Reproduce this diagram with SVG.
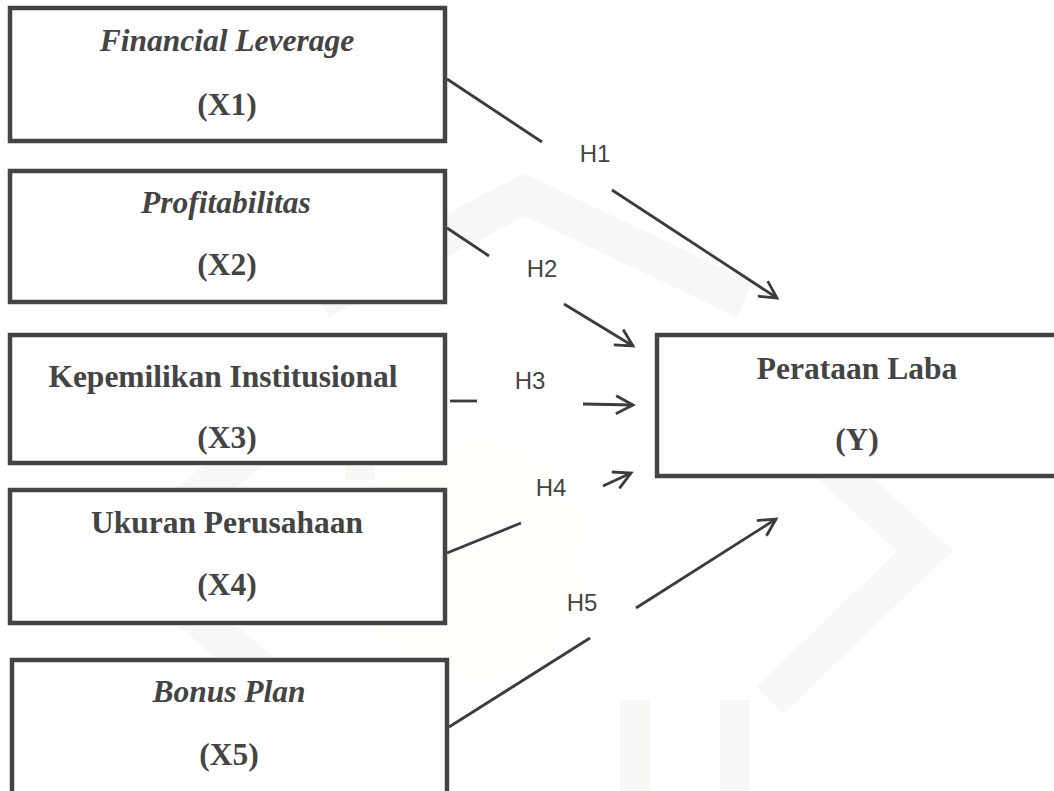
<svg xmlns="http://www.w3.org/2000/svg" width="1054" height="791" viewBox="0 0 1054 791">
  <style>
    .box { fill: #ffffff; stroke: #444444; stroke-width: 4.5; }
    .t { font-family: "Liberation Serif", "Times New Roman", serif; font-size: 31.5px; font-weight: bold; fill: #444444; text-anchor: middle; }
    .i { font-style: italic; }
    .h { font-family: "Liberation Sans", Arial, sans-serif; font-size: 24px; fill: #444444; text-anchor: middle; }
    .c { stroke: #3c3c3c; stroke-width: 2.8; fill: none; stroke-linecap: butt; }
    .wm { fill: none; stroke: #f7f7f6; stroke-width: 38; stroke-linejoin: miter; }
    .wb { fill: #f7f7f6; }
  </style>
  <defs>
    <marker id="arr" viewBox="0 0 22 22" refX="19" refY="11" markerWidth="22" markerHeight="22" markerUnits="userSpaceOnUse" orient="auto">
      <path d="M2,2 L19,11 L2,20" fill="none" stroke="#3c3c3c" stroke-width="2.8"/>
    </marker>
  </defs>
  <rect x="0" y="0" width="1054" height="791" fill="#ffffff"/>
  <g id="watermark">
    <circle cx="470" cy="560" r="120" fill="#fefefa"/>
    <polyline class="wm" points="300,410 125,555 300,705"/>
    <polyline class="wm" points="770,410 925,551 770,700"/>
    <polyline class="wm" points="320,300 525,195 745,300"/>
    <rect class="wb" x="345" y="360" width="30" height="120"/>
    <rect class="wb" x="620" y="700" width="30" height="91"/>
    <rect class="wb" x="720" y="700" width="30" height="91"/>
  </g>
  <g id="connectors">
    <line class="c" x1="447" y1="79" x2="542" y2="142"/>
    <line class="c" x1="612" y1="190" x2="777" y2="298" marker-end="url(#arr)"/>
    <line class="c" x1="447" y1="228" x2="489" y2="256"/>
    <line class="c" x1="564" y1="304" x2="633" y2="346" marker-end="url(#arr)"/>
    <line class="c" x1="450" y1="401" x2="477" y2="401"/>
    <line class="c" x1="583" y1="404" x2="633" y2="405" marker-end="url(#arr)"/>
    <line class="c" x1="447" y1="553" x2="521" y2="523"/>
    <line class="c" x1="603" y1="486" x2="631" y2="473" marker-end="url(#arr)"/>
    <line class="c" x1="449" y1="727" x2="590" y2="638"/>
    <line class="c" x1="636" y1="608" x2="776" y2="519" marker-end="url(#arr)"/>
    <text class="h" x="595" y="162">H1</text>
    <text class="h" x="542" y="277">H2</text>
    <text class="h" x="530" y="389">H3</text>
    <text class="h" x="551" y="496">H4</text>
    <text class="h" x="582" y="611">H5</text>
  </g>
  <g id="x1">
    <rect class="box" x="10" y="8" width="435" height="133"/>
    <text class="t i" x="227" y="51">Financial Leverage</text>
    <text class="t" x="227" y="115">(X1)</text>
  </g>
  <g id="x2">
    <rect class="box" x="10" y="171" width="435" height="131"/>
    <text class="t i" x="226" y="213">Profitabilitas</text>
    <text class="t" x="227" y="275">(X2)</text>
  </g>
  <g id="x3">
    <rect class="box" x="10" y="335" width="435" height="128"/>
    <text class="t" x="223" y="387">Kepemilikan Institusional</text>
    <text class="t" x="227" y="448">(X3)</text>
  </g>
  <g id="x4">
    <rect class="box" x="10" y="490" width="435" height="133"/>
    <text class="t" x="227" y="533">Ukuran Perusahaan</text>
    <text class="t" x="227" y="595">(X4)</text>
  </g>
  <g id="x5">
    <rect class="box" x="12" y="660" width="435" height="200"/>
    <text class="t i" x="229" y="702">Bonus Plan</text>
    <text class="t" x="229" y="765">(X5)</text>
  </g>
  <g id="y">
    <rect class="box" x="657" y="335" width="450" height="141"/>
    <text class="t" x="857" y="379">Perataan Laba</text>
    <text class="t" x="857" y="450">(Y)</text>
  </g>
</svg>
